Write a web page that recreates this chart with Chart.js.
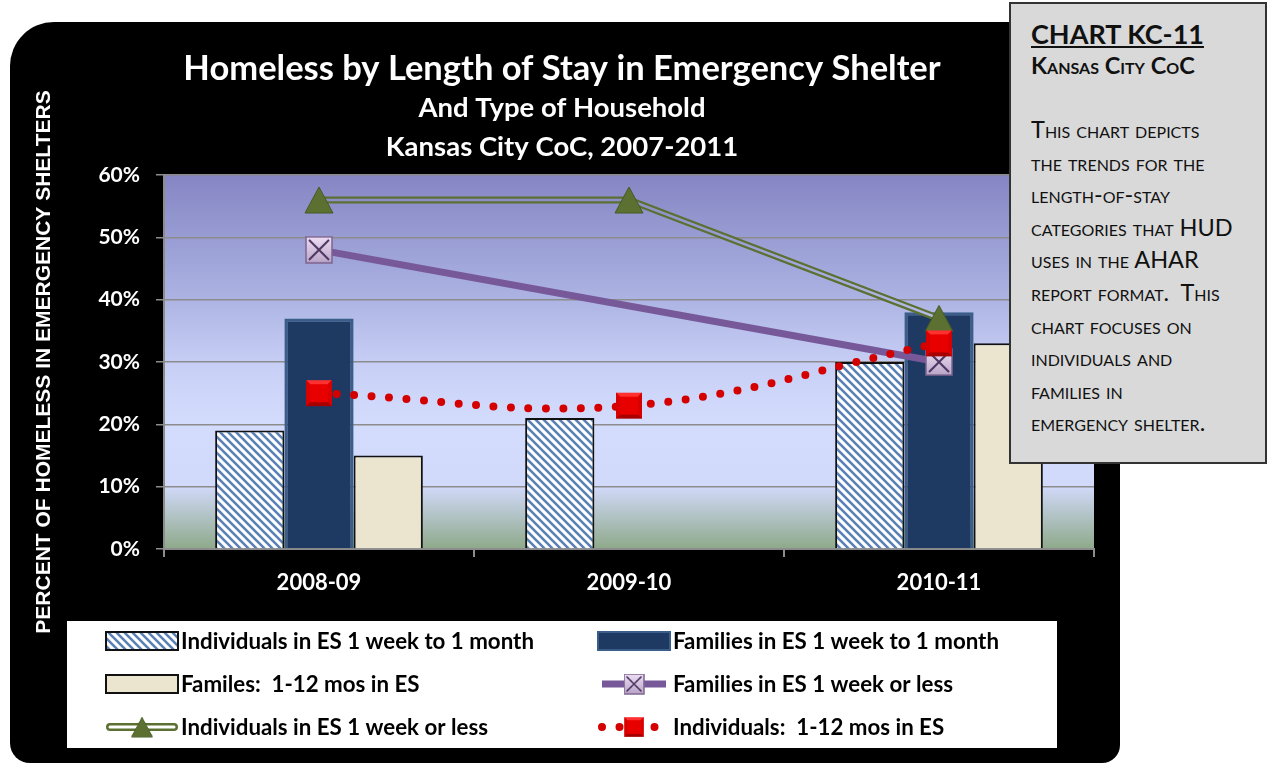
<!DOCTYPE html>
<html>
<head>
<meta charset="utf-8">
<script src="https://cdn.jsdelivr.net/npm/chart.js@4"></script>
<style>
    html, body { margin: 0; padding: 0; background: #fff; width: 1269px; height: 763px; overflow: hidden; }
    #panel { position: absolute; left: 10px; top: 22px; width: 1110px; height: 741px; background: #000;
             border-radius: 44px 40px 18px 20px; overflow: hidden; }
    #chart { position: absolute; left: 0; top: 0; }
    #note { position: absolute; left: 1009px; top: 2px; width: 258px; height: 462px; box-sizing: border-box;
            background: #d9d9d9; border: 2px solid #333; padding: 14px 0 0 20px;
            font-family: Lato, "Open Sans", sans-serif; color: #111; }
    #note .head { font-size: 27px; font-weight: bold; text-decoration: underline; line-height: 32px; }
    #note .sub { font-size: 23.5px; font-weight: bold; font-variant: small-caps; line-height: 30px; }
    #note .body { margin-top: 33px; font-size: 23.5px; font-variant: small-caps; line-height: 32.6px; }
</style>
</head>
<body>
<div id="panel"><canvas id="chart" width="1110" height="741"></canvas></div>
<div id="note">
    <div class="head">CHART KC-11</div>
    <div class="sub">Kansas City CoC</div>
    <div class="body">This chart depicts<br>the trends for the<br>length-of-stay<br>categories that HUD<br>uses in the AHAR<br>report format.&nbsp; This<br>chart focuses on<br>individuals and<br>families in<br>emergency shelter.</div>
</div>
<script>
// categories and values (percent of homeless in emergency shelters)
const categories = ['2008-09', '2009-10', '2010-11'];
const indivWeekToMonth = [19, 21, 30];
const famWeekToMonth = [37, null, 38];
const famMonths = [15, null, 33];
const famWeekOrLess = [48, null, 30];
const indivWeekOrLess = [56, 56, 37];
const indivMonths = [25, 23, 33];
const yMax = 60;
const yStep = 10;

const FONT = 'Lato, "Open Sans", sans-serif';

/**
 * Builds the diagonal hatch used by the individuals bars.
 */
function makeHatch() {
    const c = document.createElement('canvas');
    c.width = 8; c.height = 8;
    const g = c.getContext('2d');
    g.fillStyle = '#fff';
    g.fillRect(0, 0, 8, 8);
    g.strokeStyle = '#5b80b4';
    g.lineWidth = 2.6;
    g.beginPath();
    g.moveTo(-2, -2); g.lineTo(10, 10);
    g.moveTo(-2, 6); g.lineTo(2, 10);
    g.moveTo(6, -2); g.lineTo(10, 2);
    g.stroke();
    return g.createPattern(c, 'repeat');
}

function makeXSquare() {
    const c = document.createElement('canvas');
    c.width = 28; c.height = 28;
    const g = c.getContext('2d');
    const grad = g.createLinearGradient(0, 0, 0, 28);
    grad.addColorStop(0, '#efe0f6');
    grad.addColorStop(1, '#b8a3c6');
    g.fillStyle = grad;
    g.fillRect(1, 1, 26, 26);
    g.strokeStyle = '#7d6690';
    g.lineWidth = 1.5;
    g.strokeRect(1, 1, 26, 26);
    g.strokeStyle = '#4b3560';
    g.lineWidth = 2;
    g.beginPath();
    g.moveTo(4, 4); g.lineTo(24, 24);
    g.moveTo(24, 4); g.lineTo(4, 24);
    g.stroke();
    return c;
}

function makeRedSquare() {
    const c = document.createElement('canvas');
    c.width = 28; c.height = 28;
    const g = c.getContext('2d');
    g.fillStyle = '#a80000';
    g.fillRect(1, 1, 26, 26);
    // bevel faces
    g.fillStyle = '#ff3030';
    g.beginPath(); g.moveTo(1, 1); g.lineTo(27, 1); g.lineTo(14, 14); g.closePath(); g.fill();
    g.fillStyle = '#d80000';
    g.beginPath(); g.moveTo(1, 1); g.lineTo(14, 14); g.lineTo(1, 27); g.closePath(); g.fill();
    g.beginPath(); g.moveTo(27, 1); g.lineTo(14, 14); g.lineTo(27, 27); g.closePath(); g.fill();
    g.fillStyle = '#e80000';
    g.fillRect(5, 5, 18, 18);
    return c;
}

function makeTriangle() {
    const c = document.createElement('canvas');
    c.width = 30; c.height = 28;
    const g = c.getContext('2d');
    g.fillStyle = '#5b7031';
    g.strokeStyle = '#465a22';
    g.lineWidth = 1;
    g.beginPath();
    g.moveTo(15, 1); g.lineTo(29, 27); g.lineTo(1, 27); g.closePath();
    g.fill(); g.stroke();
    return c;
}

const hatch = makeHatch();
const xSquare = makeXSquare();
const redSquare = makeRedSquare();
const triangle = makeTriangle();

let plotGrad = null;
function plotGradient(chart) {
    const a = chart.chartArea;
    if (!a) return '#c8d0f4';
    if (plotGrad && plotGrad._top === a.top && plotGrad._bottom === a.bottom) return plotGrad;
    const g = chart.ctx.createLinearGradient(0, a.top, 0, a.bottom);
    g.addColorStop(0, '#8585c3');
    g.addColorStop(0.3, '#a8afe0');
    g.addColorStop(0.5, '#c6cef5');
    g.addColorStop(0.66, '#d4dcfd');
    g.addColorStop(0.83, '#d2dafb');
    g.addColorStop(1, '#8ea98a');
    g._top = a.top; g._bottom = a.bottom;
    plotGrad = g;
    return g;
}

const plotBackground = {
    id: 'plotBackground',
    beforeDraw(chart) {
        const a = chart.chartArea;
        const ctx = chart.ctx;
        ctx.save();
        ctx.fillStyle = plotGradient(chart);
        ctx.fillRect(a.left, a.top, a.right - a.left, a.bottom - a.top);
        ctx.restore();
    }
};

// legend entries: dataset index and how the swatch is drawn
const legendItems = [
    { ds: 0, kind: 'bar' }, { ds: 1, kind: 'bar' },
    { ds: 2, kind: 'bar' }, { ds: 3, kind: 'line' },
    { ds: 4, kind: 'double' }, { ds: 6, kind: 'line' }
];

const boxLegend = {
    id: 'boxLegend',
    afterDraw(chart) {
        const ctx = chart.ctx;
        const left = 57, top = 599, w = 990, h = 127;
        ctx.save();
        ctx.fillStyle = '#fff';
        ctx.fillRect(left, top, w, h);
        ctx.font = 'bold 22.3px ' + FONT;
        ctx.textBaseline = 'middle';
        ctx.fillStyle = '#000';
        legendItems.forEach((item, i) => {
            const ds = chart.data.datasets[item.ds];
            const col = i % 2, row = Math.floor(i / 2);
            const sx = col === 0 ? 96 : 588;
            const cy = 619 + row * 43;
            const sw = 72;
            if (item.kind === 'bar') {
                ctx.fillStyle = ds.backgroundColor;
                ctx.fillRect(sx, cy - 9, sw, 18);
                ctx.strokeStyle = ds.borderColor;
                ctx.lineWidth = 2;
                ctx.strokeRect(sx, cy - 9, sw, 18);
            } else {
                if (item.kind === 'double') {
                    ctx.strokeStyle = ds.borderColor;
                    ctx.lineWidth = 8;
                    ctx.lineCap = 'round';
                    ctx.beginPath(); ctx.moveTo(sx + 4, cy); ctx.lineTo(sx + sw - 4, cy); ctx.stroke();
                    ctx.strokeStyle = '#fff';
                    ctx.lineWidth = 3;
                    ctx.beginPath(); ctx.moveTo(sx + 4, cy); ctx.lineTo(sx + sw - 4, cy); ctx.stroke();
                } else {
                    ctx.strokeStyle = ds.borderColor;
                    ctx.lineWidth = ds.borderWidth;
                    ctx.lineCap = ds.borderCapStyle || 'butt';
                    ctx.setLineDash(ds.borderDash || []);
                    ctx.beginPath(); ctx.moveTo(sx + 4, cy); ctx.lineTo(sx + sw - 4, cy); ctx.stroke();
                    ctx.setLineDash([]);
                }
                const img = item.kind === 'double' ? chart.data.datasets[5].pointStyle : ds.pointStyle;
                const s = 0.75;
                ctx.drawImage(img, sx + sw / 2 - img.width * s / 2, cy - img.height * s / 2,
                              img.width * s, img.height * s);
            }
            ctx.fillStyle = '#000';
            ctx.fillText(ds.label, sx + sw + 3, cy + 1);
        });
        ctx.restore();
    }
};

const chart = new Chart(document.getElementById('chart'), {
    data: {
        labels: categories,
        datasets: [
            {
                type: 'bar', label: 'Individuals in ES 1 week to 1 month', data: indivWeekToMonth,
                backgroundColor: hatch, borderColor: '#111', borderWidth: 2, order: 4
            },
            {
                type: 'bar', label: 'Families in ES 1 week to 1 month', data: famWeekToMonth,
                backgroundColor: '#1e3a63', borderColor: '#3b5d8a', borderWidth: 3, order: 4
            },
            {
                type: 'bar', label: 'Familes:  1-12 mos in ES', data: famMonths,
                backgroundColor: '#ebe5cf', borderColor: '#111', borderWidth: 2, order: 4
            },
            {
                type: 'line', label: 'Families in ES 1 week or less', data: famWeekOrLess,
                borderColor: '#77599a', borderWidth: 7, spanGaps: true,
                pointStyle: xSquare, pointRadius: 14, order: 1
            },
            {
                type: 'line', label: 'Individuals in ES 1 week or less', data: indivWeekOrLess,
                borderColor: '#5b7031', borderWidth: 7, pointRadius: 0, order: 3
            },
            {
                // inner gap of the double line, painted with the plot background
                type: 'line', label: '', data: indivWeekOrLess,
                borderColor: ctx => plotGradient(ctx.chart), borderWidth: 2.5,
                pointStyle: triangle, pointRadius: 14, order: 2
            },
            {
                type: 'line', label: 'Individuals:  1-12 mos in ES', data: indivMonths,
                borderColor: '#d40000', borderWidth: 8, borderDash: [0, 17.5], borderCapStyle: 'round',
                tension: 0.4, pointStyle: redSquare, pointRadius: 14, order: 0
            }
        ]
    },
    options: {
        responsive: false,
        animation: false,
        layout: { padding: { left: 20, right: 26, top: 0, bottom: 154 } },
        datasets: { bar: { categoryPercentage: 0.67, barPercentage: 1 } },
        plugins: {
            legend: { display: false },
            tooltip: { enabled: false },
            title: {
                display: true,
                text: 'Homeless by Length of Stay in Emergency Shelter',
                color: '#fff',
                font: { family: FONT, size: 34.5, weight: 'bold', lineHeight: 1.1 },
                padding: { top: 28, bottom: 0 }
            },
            subtitle: {
                display: true,
                text: ['And Type of Household', 'Kansas City CoC, 2007-2011'],
                color: '#fff',
                font: { family: FONT, size: 27.5, weight: 'bold', lineHeight: 1.42 },
                padding: { top: 1, bottom: 8 }
            }
        },
        scales: {
            x: {
                offset: true,
                grid: { offset: true, drawOnChartArea: false, color: '#8c8c8c', lineWidth: 2, tickLength: 8 },
                border: { color: '#8c8c8c', width: 2 },
                ticks: { color: '#fff', font: { family: FONT, size: 22, weight: 'bold' }, padding: 13 },
                afterFit: s => { s.height = 60; }
            },
            y: {
                min: 0, max: yMax,
                ticks: {
                    stepSize: yStep, color: '#fff', padding: 16,
                    font: { family: FONT, size: 21, weight: 'bold' },
                    callback: v => v + '%'
                },
                grid: { color: '#8c8c8c', lineWidth: 1.5, tickLength: 8 },
                border: { color: '#8c8c8c', width: 2 },
                title: {
                    display: true, text: 'PERCENT OF HOMELESS IN EMERGENCY SHELTERS', color: '#fff',
                    font: { family: '"Liberation Sans", Arial, sans-serif', size: 21, weight: 'bold' },
                    padding: { top: 2, bottom: 0 }
                },
                afterFit: s => { s.width = 134; }
            }
        }
    },
    plugins: [plotBackground, boxLegend]
});
</script>
</body>
</html>
